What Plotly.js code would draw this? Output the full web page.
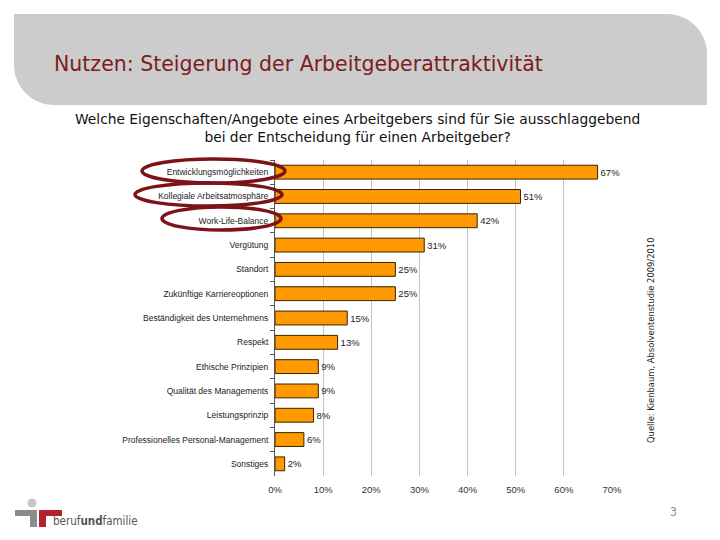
<!DOCTYPE html>
<html>
<head>
<meta charset="utf-8">
<script src="https://cdn.plot.ly/plotly-3.0.1.min.js"></script>
<style>html,body{margin:0;padding:0;background:#fff;}#chart{width:720px;height:540px;}</style>
</head>
<body>
<div id="chart"></div>
<script>
// ---- data ----
var categories = [
  "Entwicklungsmöglichkeiten",
  "Kollegiale Arbeitsatmosphäre",
  "Work-Life-Balance",
  "Vergütung",
  "Standort",
  "Zukünftige Karriereoptionen",
  "Beständigkeit des Unternehmens",
  "Respekt",
  "Ethische Prinzipien",
  "Qualität des Managements",
  "Leistungsprinzip",
  "Professionelles Personal-Management",
  "Sonstiges"
];
var values = [67, 51, 42, 31, 25, 25, 15, 13, 9, 9, 8, 6, 2];
var valueLabels = ["67%", "51%", "42%", "31%", "25%", "25%", "15%", "13%", "9%", "9%", "8%", "6%", "2%"];
var xTickVals = [0, 10, 20, 30, 40, 50, 60, 70];
var xTickText = ["0%", "10%", "20%", "30%", "40%", "50%", "60%", "70%"];

var pageTitle = "Nutzen: Steigerung der Arbeitgeberattraktivität";
var question = "Welche Eigenschaften/Angebote eines Arbeitgebers sind für Sie ausschlaggebend<br>bei der Entscheidung für einen Arbeitgeber?";
var sourceText = "Quelle: Kienbaum, Absolventenstudie 2009/2010";
var pageNumber = "3";

// ---- layout helpers ----
var W = 720, H = 540;
var M = {l: 275, r: 108, t: 160, b: 64};
var PW = W - M.l - M.r, PH = H - M.t - M.b;
function px(x){ return (x - M.l) / PW; }
function py(y){ return (H - M.b - y) / PH; }

var labelFont = "Liberation Sans, Arial, sans-serif";
var condensed = "DejaVu Sans Condensed, DejaVu Sans, sans-serif";
var wide = "DejaVu Sans, Verdana, sans-serif";

// header path (rounded top-right and bottom-left corners)
function hp(){
  var k = 22;
  return "M" + px(14) + "," + py(14) +
    " L" + px(667) + "," + py(14) +
    " C" + px(667 + k) + "," + py(14) + " " + px(707) + "," + py(54 - k) + " " + px(707) + "," + py(54) +
    " L" + px(707) + "," + py(105) +
    " L" + px(54) + "," + py(105) +
    " C" + px(54 - k) + "," + py(105) + " " + px(14) + "," + py(65 + k) + " " + px(14) + "," + py(65) +
    " Z";
}

var shapes = [
  {type: "path", xref: "paper", yref: "paper", path: hp(), fillcolor: "#cccccc", line: {width: 0}, layer: "below"}
];
// ellipses around highlighted labels
var ellipseBoxes = [[142, 159, 285, 183], [135, 183, 282, 206], [162, 207, 281, 230]];
ellipseBoxes.forEach(function(b){
  shapes.push({type: "circle", xref: "paper", yref: "paper",
    x0: px(b[0]), x1: px(b[2]), y0: py(b[3]), y1: py(b[1]),
    line: {color: "#7a1418", width: 3.5}, fillcolor: "rgba(0,0,0,0)"});
});
// logo
shapes.push({type: "circle", xref: "paper", yref: "paper", x0: px(27.5), x1: px(36.5), y0: py(507.5), y1: py(498.5), fillcolor: "#c8c8c8", line: {width: 0}});
shapes.push({type: "path", xref: "paper", yref: "paper",
  path: "M" + px(15) + "," + py(510) + " L" + px(37) + "," + py(510) + " L" + px(37) + "," + py(527) + " L" + px(30) + "," + py(527) + " L" + px(30) + "," + py(516) + " L" + px(15) + "," + py(516) + " Z",
  fillcolor: "#8c8c8c", line: {width: 0}});
shapes.push({type: "path", xref: "paper", yref: "paper",
  path: "M" + px(39) + "," + py(510) + " L" + px(62) + "," + py(510) + " L" + px(62) + "," + py(516) + " L" + px(46) + "," + py(516) + " L" + px(46) + "," + py(527) + " L" + px(39) + "," + py(527) + " Z",
  fillcolor: "#b5202e", line: {width: 0}});

var annotations = [
  {xref: "paper", yref: "paper", x: px(52), y: py(64), xanchor: "left", yanchor: "middle", showarrow: false,
   text: pageTitle, font: {family: wide, size: 20.5, color: "#7d1b22"}},
  {xref: "paper", yref: "paper", x: px(357), y: py(128), xanchor: "center", yanchor: "middle", showarrow: false,
   text: question, align: "center", font: {family: wide, size: 13.8, color: "#111"}},
  {xref: "paper", yref: "paper", x: px(650), y: py(341), xanchor: "center", yanchor: "middle", showarrow: false,
   text: sourceText, textangle: -90, font: {family: condensed, size: 9.3, color: "#222"}},
  {xref: "paper", yref: "paper", x: px(673), y: py(512), xanchor: "center", yanchor: "middle", showarrow: false,
   text: pageNumber, font: {family: condensed, size: 12, color: "#8a8a8a"}},
  {xref: "paper", yref: "paper", x: px(51), y: py(521), xanchor: "left", yanchor: "middle", showarrow: false,
   text: "beruf<b>und</b>familie", font: {family: condensed, size: 11.5, color: "#555"}}
];

var trace = {
  type: "bar",
  orientation: "h",
  y: categories,
  x: values,
  text: valueLabels,
  textposition: "outside",
  cliponaxis: false,
  textfont: {family: labelFont, size: 9.5, color: "#222"},
  marker: {color: "#ff9900", line: {color: "#3b2200", width: 1}},
  hoverinfo: "skip"
};

var layout = {
  width: W, height: H,
  margin: M,
  paper_bgcolor: "rgba(0,0,0,0)",
  plot_bgcolor: "rgba(0,0,0,0)",
  showlegend: false,
  bargap: 0.43,
  xaxis: {
    range: [0, 70], tickvals: xTickVals, ticktext: xTickText,
    showgrid: true, gridcolor: "#c4c4c4", gridwidth: 1, zeroline: false, showline: false,
    ticks: "", ticklabelstandoff: 6,
    tickfont: {family: labelFont, size: 9.5, color: "#333"}, fixedrange: true
  },
  yaxis: {
    type: "category", autorange: "reversed",
    showgrid: false, zeroline: false, showline: true, linecolor: "#555", linewidth: 1,
    ticks: "outside", tickson: "boundaries", ticklen: 4, tickcolor: "#555",
    ticklabelstandoff: 4,
    tickfont: {family: labelFont, size: 8.5, color: "#222"}, fixedrange: true
  },
  shapes: shapes,
  annotations: annotations
};

Plotly.newPlot("chart", [trace], layout, {displayModeBar: false, staticPlot: true});
</script>
</body>
</html>
